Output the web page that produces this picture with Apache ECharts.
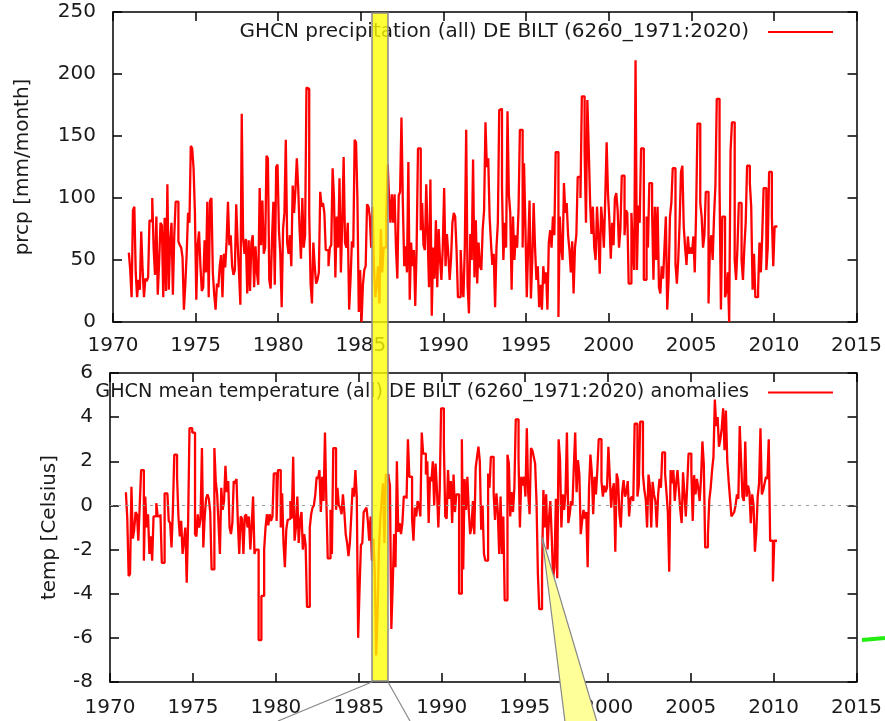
<!DOCTYPE html>
<html>
<head>
<meta charset="utf-8">
<script src="https://cdn.jsdelivr.net/npm/echarts@6/dist/echarts.min.js"></script>
<style>
  html, body { margin: 0; padding: 0; background: #fff; }
  #chart { width: 885px; height: 721px; }
</style>
</head>
<body>
<div id="chart"></div>
<script>
// monthly values, Jan 1971 .. Apr 2010
const startYear = 1971;
const prcpName = 'GHCN precipitation (all) DE BILT (6260_1971:2020)';
const tempName = 'GHCN mean temperature (all) DE BILT (6260_1971:2020) anomalies';

// precipitation [mm/month]
const prcp1970s = [
  56, 42, 20, 90, 93, 40, 20, 34, 26, 73, 42, 20,
  35, 33, 36, 82, 81, 100, 60, 38, 85, 22, 48, 80,
  78, 20, 84, 25, 111, 26, 65, 80, 22, 70, 97, 97,
  65, 62, 60, 52, 10, 30, 55, 88, 80, 142, 140, 124,
  88, 18, 62, 73, 45, 25, 28, 66, 40, 97, 20, 98,
  100, 40, 22, 10, 31, 28, 45, 54, 20, 55, 44, 65,
  97, 62, 70, 45, 38, 42, 95, 64, 40, 14, 168, 67,
  55, 67, 23, 66, 25, 64, 70, 28, 61, 40, 30, 108,
  62, 98, 55, 60, 134, 132, 34, 27, 68, 97, 30, 125
];
const prcp1980s = [
  127, 74, 55, 12, 75, 88, 147, 64, 55, 70, 45, 110,
  88, 107, 132, 108, 75, 51, 100, 60, 70, 189, 188, 88,
  31, 15, 64, 45, 31, 34, 40, 105, 93, 96, 88, 58,
  58, 45, 60, 62, 124, 100, 36, 85, 60, 116, 40, 80,
  133, 64, 60, 80, 10, 34, 65, 60, 147, 145, 100, 8,
  42, 0, 30, 42, 45, 95, 93, 85, 60, 93, 45, 20,
  30, 45, 15, 75, 40, 60, 60, 85, 127, 100, 80, 103,
  80, 103, 60, 35, 102, 105, 165, 96, 45, 61, 40, 129,
  18, 64, 45, 58, 13, 60, 140, 140, 74, 96, 62, 58,
  111, 70, 28, 115, 5, 60, 35, 82, 28, 75, 50, 34
];
const prcp1990s = [
  60, 108, 45, 71, 55, 34, 51, 80, 88, 85, 58, 20,
  20, 58, 31, 20, 60, 155, 30, 7, 71, 50, 131, 36,
  82, 31, 64, 45, 42, 75, 90, 161, 125, 132, 85, 64,
  46, 55, 12, 60, 80, 171, 172, 109, 50, 80, 60, 170,
  103, 88, 26, 85, 50, 70, 60, 90, 155, 155, 60, 128,
  77, 20, 60, 98, 19, 50, 96, 60, 34, 45, 12, 30,
  10, 45, 31, 40, 10, 64, 74, 60, 85, 70, 137, 137,
  4, 85, 60, 50, 112, 88, 96, 70, 58, 40, 65, 23,
  60, 70, 117, 117, 100, 182, 182, 138, 80, 179, 140, 96,
  71, 93, 60, 50, 93, 70, 39, 93, 80, 60, 100, 145
];
const prcp2000s = [
  103, 82, 51, 80, 62, 100, 104, 90, 60, 75, 118, 118,
  70, 90, 88, 31, 31, 88, 60, 42, 211, 42, 94, 80,
  140, 140, 34, 34, 85, 60, 112, 112, 90, 34, 93, 50,
  93, 28, 23, 45, 35, 60, 85, 10, 35, 85, 96, 124,
  124, 47, 31, 50, 80, 121, 126, 77, 60, 46, 69, 55,
  60, 55, 69, 40, 90, 160, 160, 96, 85, 60, 70, 105,
  105, 15, 60, 70, 50, 85, 110, 180, 180, 109, 10, 85,
  85, 20, 25, 40, 0, 138, 161, 161, 50, 34, 60, 96,
  96, 50, 34, 60, 80, 126, 126, 112, 93, 26, 55, 20,
  20, 26, 64, 40, 70, 108, 108, 42, 60, 121, 121, 85,
  45, 77, 77, 77
];

// mean temperature anomalies [Celsius]
const temp1970s = [
  0.6, -0.6, -3.2, -3.1, 0.85, -1.5, -1.1, -0.3, -0.4, -1.6, 0.0, 1.6,
  1.6, -2.5, 0.4, -1.0, -0.4, -2.2, -1.4, -2.5, -0.5, -0.5, 0.1, -0.5,
  -0.5, -0.4, -2.6, -2.6, 0.55, 0.55, 0.5, -0.7, -0.8, -1.9, -0.2, 2.3,
  2.3, 1.3, -0.5, -1.4, -0.7, -2.2, -1.6, -1.0, -3.5, -0.8, 3.5, 3.5,
  3.3, 3.3, -1.3, -1.4, -0.4, -1.0, -0.6, 2.6, -1.9, -0.5, 0.3, 0.5,
  0.3, -0.3, -2.9, -2.9, 2.6, 1.1, 0.5, -0.8, -2.2, 0.8, -0.2, 0.2,
  1.8, 0.6, 1.1, -1.0, -1.3, -0.8, 1.1, 1.0, 1.2, -0.8, -2.2, -0.5,
  -0.6, -2.2, -0.5, -0.4, -1.0, -0.5, -2.0, -0.9, 0.4, -2.2, -2.0, -2.0,
  -6.1, -6.1, -4.1, -4.1, -2.0, -1.0, -0.4, -0.9, -0.4, -0.7, -0.5, 1.45
];
const temp1980s = [
  1.45, -0.7, 1.6, 1.6, -1.0, 0.55, -1.7, -2.8, -1.1, -0.66, -0.6, 0.2,
  -0.6, 2.2, -1.6, -1.0, 0.4, -1.7, -0.66, -0.3, -2.0, -1.3, -1.8, -4.6,
  -4.6, -1.0, -0.4, -0.1, 0.0, 0.5, 1.3, 1.2, 1.6, -0.3, 1.3, 0.2,
  3.3, 0.2, -2.4, -2.4, -0.2, -2.2, 2.6, 2.6, -0.2, 0.8, 0.0, -0.1,
  -0.4, 0.5, -0.3, -1.3, -1.7, -2.3, -1.7, -0.5, 0.8, 0.4, 1.6, 0.4,
  -6.0, -3.8, -1.8, -1.7, -0.3, -0.2, -0.1, -0.7, -1.6, -0.5, -2.5, -1.5,
  -3.0, -6.8, -5.0, -2.0, -0.6, 0.2, 1.0, -1.7, 1.4, 1.4, 1.3, 0.9,
  -5.6, -3.6, -1.3, -2.8, 2.0, -1.2, -0.8, -1.3, -0.8, 0.4, 0.4, 0.3,
  3.0, 1.3, 1.3, -0.6, -1.6, -0.1, -0.5, 0.2, 0.0, -0.5, 3.3, 2.35,
  2.35, 1.4, 2.0, -0.8, 1.3, 1.1, 2.0, 0.0, 1.9, 0.7, -1.0, 0.7
];
const temp1990s = [
  4.4, 4.4, 2.7, -0.5, -0.6, 1.6, 0.3, 1.1, -0.8, 1.4, -0.3, 0.5,
  0.5, -4.0, -4.0, 3.0, -2.9, 1.2, -0.2, 1.3, -0.2, -1.3, -1.0, 0.2,
  -1.3, 1.7, 2.2, 2.66, 2.0, -1.1, 0.0, -2.2, -2.5, -2.5, 1.45, 0.8,
  2.2, 2.2, 0.55, -0.66, 0.55, -0.3, -2.2, 0.4, -2.2, -0.5, -4.3, -4.3,
  2.3, 1.9, -0.5, 0.6, -0.3, 0.8, 3.9, 3.9, 2.1, -1.0, 1.3, 0.9,
  1.3, 0.4, 3.5, 0.55, -0.4, 2.6, 2.5, 2.2, 1.9, 0.2, -3.1, -4.7,
  -4.7, -2.9, 0.7, -1.0, 0.5, -2.0, -0.6, 0.2, -1.4, -3.3, -2.8, 0.3,
  -3.3, 3.0, 2.1, -1.0, 0.5, -0.2, 0.6, 3.3, -0.8, -0.4, 0.2, 0.0,
  1.75, 3.3, 0.6, 2.05, 1.4, -1.3, -0.7, -0.2, -0.6, -0.3, -2.8, 0.8,
  2.3, 1.5, -0.4, 1.3, 0.5, 1.6, 3.0, 3.0, 1.1, 0.4, 0.9, 0.6
];
const temp2000s = [
  0.8, 2.66, 1.3, -0.1, 0.7, 1.0, -2.1, 1.45, 1.15, -0.4, -1.0, 0.6,
  1.15, 0.4, 0.6, 1.1, -0.5, 0.3, 0.4, 0.2, 3.7, 3.7, 0.4, 0.9,
  3.8, 3.8, 1.4, 0.7, 0.3, -1.0, 1.4, 0.9, -1.0, 1.07, 0.5, 0.2,
  -1.0, 0.5, 1.2, 0.8, 2.4, 2.4, 1.45, 0.6, -0.3, -3.0, 1.6, 1.0,
  1.6, 0.2, 1.0, 1.6, 0.7, -0.2, -0.8, 1.5, 0.5, -0.5, 0.9, 2.35,
  2.35, 1.6, -0.7, 1.37, 0.5, 1.2, 0.8, 0.2, 1.2, 2.9, 1.9, -1.9,
  -1.9, -1.3, 0.25, 0.8, 1.6, 2.2, 4.8, 3.6, 4.0, 2.66, 3.0, 3.5,
  4.4, 2.5, 4.3, 2.0, 1.1, 0.3, -0.5, -0.4, -0.3, 0.0, 0.5, 0.3,
  3.6, 2.0, 0.4, 0.2, 2.9, 0.4, 0.9, 0.6, -0.8, 0.5, 0.0, -2.1,
  -1.2, 0.4, 1.0, 3.5, 0.5, 0.7, 1.0, 1.3, 1.2, 3.0, -1.6, -1.6,
  -3.45, -1.6, -1.6, -1.6
];

const prcp = [].concat(prcp1970s, prcp1980s, prcp1990s, prcp2000s);
const temp = [].concat(temp1970s, temp1980s, temp1990s, temp2000s);

// month i sits at startYear + (i - 0.5) / 12
const toPairs = arr => arr.map((v, i) => [startYear + (i - 0.5) / 12, v]);

const font = 'DejaVu Sans';
const ink = '#1a1a1a';
const fs = 20;

const xAx = (grid, pos, showLabel, margin) => ({
  type: 'value', gridIndex: grid, position: pos,
  min: 1970, max: 2015, interval: 5,
  axisLine: { show: true, onZero: false, lineStyle: { color: '#000', width: 1.5 } },
  axisTick: { show: true, inside: true, length: 9, lineStyle: { color: '#000', width: 1.5 } },
  axisLabel: { show: showLabel, fontSize: fs, fontFamily: font, color: ink, margin: margin,
               formatter: v => String(v) },
  splitLine: { show: false }
});

const yAx = (grid, pos, min, max, step, name, gap) => ({
  type: 'value', gridIndex: grid, position: pos,
  min: min, max: max, interval: step,
  name: name, nameLocation: 'middle', nameGap: gap, nameRotate: 90,
  nameTextStyle: { fontSize: fs, fontFamily: font, color: ink },
  axisLine: { show: true, onZero: false, lineStyle: { color: '#000', width: 1.5 } },
  axisTick: { show: true, inside: true, length: 9, lineStyle: { color: '#000', width: 1.5 } },
  axisLabel: { show: pos === 'left', fontSize: fs, fontFamily: font, color: ink, margin: 17,
               verticalAlign: 'middle', padding: [7, 0, 0, 0], formatter: v => String(v) },
  splitLine: { show: false }
});

const legendFor = (name, top, size) => ({
  data: [name], right: 52, top: top, align: 'right', padding: 0,
  itemWidth: 65, itemHeight: 2, icon: 'rect', selectedMode: false,
  textStyle: { fontSize: size, fontFamily: font, color: ink, padding: [4, 14, 0, 0] }
});

const chart = echarts.init(document.getElementById('chart'));
chart.setOption({
  animation: false,
  backgroundColor: '#fff',
  grid: [
    { left: 113, top: 12, width: 746, height: 310 },
    { left: 110, top: 373, width: 749, height: 309 }
  ],
  xAxis: [
    xAx(0, 'bottom', true, 14),
    xAx(0, 'top', false, 0),
    xAx(1, 'bottom', true, 16),
    xAx(1, 'top', false, 0)
  ],
  yAxis: [
    yAx(0, 'left', 0, 250, 50, 'prcp [mm/month]', 80),
    yAx(0, 'right', 0, 250, 50, '', 0),
    yAx(1, 'left', -8, 6, 2, 'temp [Celsius]', 50),
    yAx(1, 'right', -8, 6, 2, '', 0)
  ],
  legend: [legendFor(prcpName, 22, 20), legendFor(tempName, 383, 19.2)],
  series: [
    {
      name: prcpName, type: 'line', step: 'end',
      xAxisIndex: 0, yAxisIndex: 0,
      showSymbol: false, symbol: 'none',
      color: '#ff0000',
      lineStyle: { color: '#ff0000', width: 2.3 },
      data: toPairs(prcp)
    },
    {
      name: tempName, type: 'line', step: 'end',
      xAxisIndex: 2, yAxisIndex: 2,
      showSymbol: false, symbol: 'none',
      color: '#ff0000',
      lineStyle: { color: '#ff0000', width: 2.3 },
      data: toPairs(temp),
      markLine: {
        silent: true, symbol: 'none', label: { show: false },
        lineStyle: { color: '#999', type: [3, 5], width: 1 },
        data: [{ yAxis: 0 }]
      }
    }
  ],
  // highlight band and callouts drawn over the plot
  graphic: [
    { type: 'line', z: 90, shape: { x1: 372, y1: 682, x2: 278, y2: 721 },
      style: { stroke: '#888', lineWidth: 1.2 } },
    { type: 'line', z: 90, shape: { x1: 388, y1: 682, x2: 410, y2: 721 },
      style: { stroke: '#888', lineWidth: 1.2 } },
    { type: 'rect', z: 95, shape: { x: 372, y: 13, width: 16, height: 668 },
      style: { fill: 'rgba(255,255,0,0.78)', stroke: '#8a8a8a', lineWidth: 1.5 } },
    { type: 'polygon', z: 95, shape: { points: [[542, 537], [565, 722], [597, 722]] },
      style: { fill: '#ffff99', stroke: '#888', lineWidth: 1.2 } },
    { type: 'line', z: 95, shape: { x1: 862, y1: 640, x2: 885, y2: 638 },
      style: { stroke: '#22ee11', lineWidth: 4 } }
  ]
});
</script>
</body>
</html>
